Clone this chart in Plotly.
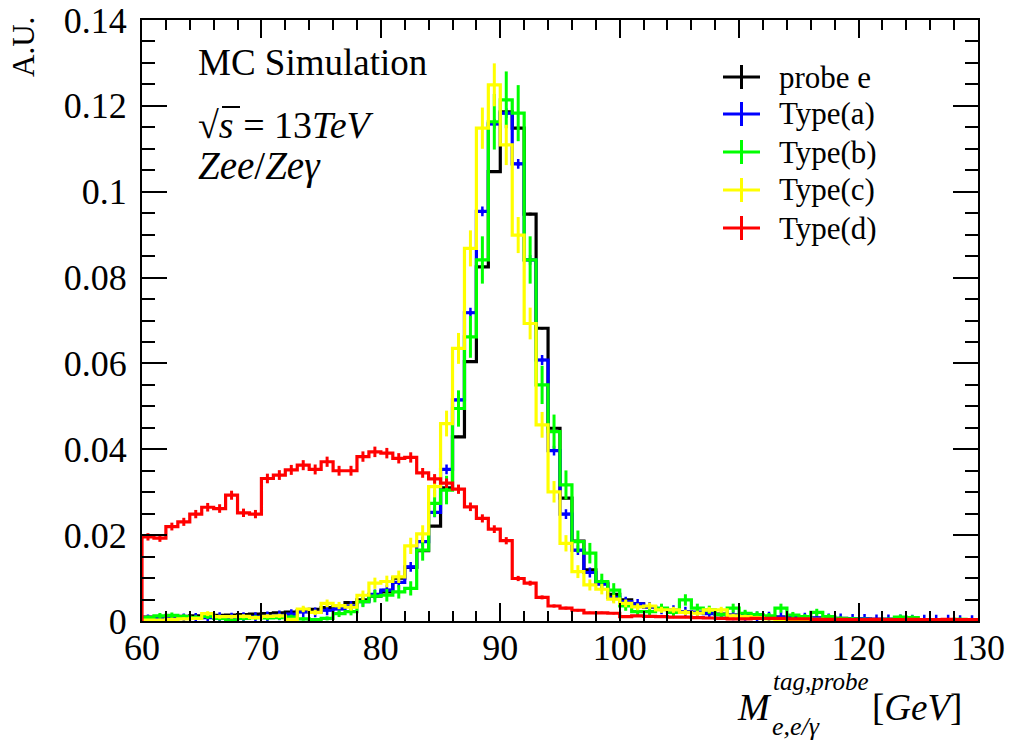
import plotly.graph_objects as go

# ---------------- data (bin width 1 GeV, 60-130 GeV) ----------------
bin_edges = list(range(60, 131))
bin_centres = [e + 0.5 for e in range(60, 130)]

probe_e = [0.0009, 0.0009, 0.0010, 0.0011, 0.0012, 0.0012, 0.0013, 0.0014, 0.0015, 0.0016,
           0.0017, 0.0019, 0.0021, 0.0024, 0.0027, 0.0031, 0.0035, 0.0043, 0.0049, 0.0058,
           0.0068, 0.0100, 0.0125, 0.0164, 0.0221, 0.0310, 0.0429, 0.0604, 0.0825, 0.1047,
           0.1186, 0.1148, 0.0948, 0.0682, 0.0449, 0.0286, 0.0186, 0.0119, 0.0088, 0.0062,
           0.0049, 0.0040, 0.0033, 0.0028, 0.0025, 0.0022, 0.0020, 0.0018, 0.0016, 0.0014,
           0.0012, 0.0011, 0.0010, 0.0009, 0.0008, 0.0007, 0.0007, 0.0006, 0.0005, 0.0005,
           0.0004, 0.0004, 0.0004, 0.0003, 0.0003, 0.0003, 0.0003, 0.0002, 0.0002, 0.0002]
probe_e_err = [0.00003, 0.00003, 0.00003, 0.00003, 0.00003, 0.00003, 0.00004, 0.00004, 0.00004, 0.00004,
               0.00004, 0.00004, 0.00005, 0.00005, 0.00005, 0.00006, 0.00006, 0.00007, 0.00007, 0.00008,
               0.00008, 0.00010, 0.00011, 0.00013, 0.00015, 0.00018, 0.00021, 0.00025, 0.00029, 0.00032,
               0.00034, 0.00034, 0.00031, 0.00026, 0.00021, 0.00017, 0.00014, 0.00011, 0.00009, 0.00008,
               0.00007, 0.00006, 0.00006, 0.00005, 0.00005, 0.00005, 0.00004, 0.00004, 0.00004, 0.00004,
               0.00003, 0.00003, 0.00003, 0.00003, 0.00003, 0.00003, 0.00003, 0.00002, 0.00002, 0.00002,
               0.00002, 0.00002, 0.00002, 0.00002, 0.00002, 0.00002, 0.00002, 0.00001, 0.00001, 0.00001]

type_a = [0.0004, 0.0005, 0.0005, 0.0006, 0.0007, 0.0008, 0.0009, 0.0008, 0.0009, 0.0009,
          0.0011, 0.0013, 0.0016, 0.0021, 0.0020, 0.0025, 0.0028, 0.0035, 0.0045, 0.0062,
          0.0072, 0.0090, 0.0126, 0.0185, 0.0253, 0.0353, 0.0515, 0.0718, 0.0954, 0.1158,
          0.1183, 0.1065, 0.0841, 0.0608, 0.0397, 0.0249, 0.0165, 0.0113, 0.0086, 0.0055,
          0.0045, 0.0040, 0.0033, 0.0027, 0.0025, 0.0022, 0.0020, 0.0017, 0.0015, 0.0013,
          0.0012, 0.0011, 0.0010, 0.0009, 0.0008, 0.0008, 0.0007, 0.0006, 0.0006, 0.0005,
          0.0005, 0.0004, 0.0004, 0.0004, 0.0003, 0.0003, 0.0003, 0.0003, 0.0002, 0.0002]
type_a_err = [0.00003, 0.00003, 0.00003, 0.00003, 0.00004, 0.00004, 0.00004, 0.00004, 0.00004, 0.00004,
              0.00005, 0.00005, 0.00006, 0.00006, 0.00006, 0.00007, 0.00007, 0.00008, 0.00009, 0.00011,
              0.00012, 0.00013, 0.00016, 0.00019, 0.00022, 0.00026, 0.00032, 0.00038, 0.00043, 0.00048,
              0.00048, 0.00046, 0.00041, 0.00035, 0.00028, 0.00022, 0.00018, 0.00015, 0.00013, 0.00010,
              0.00009, 0.00009, 0.00008, 0.00007, 0.00007, 0.00007, 0.00006, 0.00006, 0.00005, 0.00005,
              0.00005, 0.00005, 0.00004, 0.00004, 0.00004, 0.00004, 0.00004, 0.00003, 0.00003, 0.00003,
              0.00003, 0.00003, 0.00003, 0.00003, 0.00002, 0.00002, 0.00002, 0.00002, 0.00002, 0.00002]

type_b = [0.0008, 0.0012, 0.0013, 0.0010, 0.0008, 0.0011, 0.0006, 0.0002, 0.0006, 0.0008,
          0.0007, 0.0008, 0.0009, 0.0005, 0.0003, 0.0006, 0.0017, 0.0022, 0.0045, 0.0058,
          0.0060, 0.0068, 0.0076, 0.0165, 0.0274, 0.0305, 0.0495, 0.0662, 0.0841, 0.1163,
          0.1214, 0.1183, 0.0841, 0.0550, 0.0441, 0.0317, 0.0185, 0.0158, 0.0092, 0.0072,
          0.0035, 0.0022, 0.0022, 0.0030, 0.0020, 0.0049, 0.0030, 0.0026, 0.0015, 0.0030,
          0.0018, 0.0015, 0.0012, 0.0030, 0.0014, 0.0010, 0.0020, 0.0010, 0.0006, 0.0005,
          0.0004, 0.0003, 0.0004, 0.0009, 0.0008, 0.0003, 0.0003, 0.0002, 0.0004, 0.0003]
type_b_err = [0.00054, 0.00066, 0.00068, 0.00060, 0.00054, 0.00063, 0.00047, 0.00027, 0.00047, 0.00054,
              0.00050, 0.00054, 0.00057, 0.00042, 0.00033, 0.00047, 0.00078, 0.00089, 0.00127, 0.00145,
              0.00147, 0.00157, 0.00166, 0.00244, 0.00315, 0.00332, 0.00423, 0.00489, 0.00551, 0.00648,
              0.00662, 0.00653, 0.00551, 0.00446, 0.00399, 0.00338, 0.00258, 0.00239, 0.00182, 0.00161,
              0.00112, 0.00089, 0.00089, 0.00104, 0.00085, 0.00133, 0.00104, 0.00097, 0.00074, 0.00104,
              0.00081, 0.00074, 0.00066, 0.00104, 0.00071, 0.00060, 0.00085, 0.00060, 0.00047, 0.00042,
              0.00038, 0.00033, 0.00038, 0.00057, 0.00054, 0.00033, 0.00033, 0.00027, 0.00038, 0.00033]

type_c = [0.0002, 0.0002, 0.0004, 0.0005, 0.0006, 0.0017, 0.0010, 0.0010, 0.0011, 0.0008,
          0.0011, 0.0012, 0.0004, 0.0028, 0.0020, 0.0041, 0.0036, 0.0032, 0.0060, 0.0088,
          0.0092, 0.0103, 0.0175, 0.0203, 0.0313, 0.0460, 0.0635, 0.0868, 0.1148, 0.1249,
          0.1109, 0.0899, 0.0693, 0.0457, 0.0301, 0.0181, 0.0115, 0.0084, 0.0074, 0.0051,
          0.0041, 0.0033, 0.0035, 0.0026, 0.0026, 0.0020, 0.0018, 0.0026, 0.0026, 0.0012,
          0.0010, 0.0008, 0.0005, 0.0001, 0.0002, 0.0002, 0.0004, 0.0003, 0.0003, 0.0002,
          0.0002, 0.0002, 0.0001, 0.0003, 0.0002, 0.0002, 0.0001, 0.0002, 0.0002, 0.0001]
type_c_err = [0.00020, 0.00020, 0.00028, 0.00032, 0.00035, 0.00058, 0.00045, 0.00045, 0.00047, 0.00040,
              0.00047, 0.00049, 0.00028, 0.00075, 0.00063, 0.00090, 0.00085, 0.00080, 0.00110, 0.00130,
              0.00136, 0.00144, 0.00190, 0.00200, 0.00250, 0.00300, 0.00360, 0.00420, 0.00480, 0.00500,
              0.00470, 0.00420, 0.00370, 0.00300, 0.00250, 0.00190, 0.00150, 0.00130, 0.00120, 0.00100,
              0.00090, 0.00080, 0.00080, 0.00070, 0.00070, 0.00063, 0.00060, 0.00070, 0.00070, 0.00049,
              0.00045, 0.00040, 0.00032, 0.00014, 0.00020, 0.00020, 0.00028, 0.00024, 0.00024, 0.00020,
              0.00020, 0.00020, 0.00014, 0.00024, 0.00020, 0.00020, 0.00014, 0.00020, 0.00020, 0.00014]

type_d = [0.0196, 0.0193, 0.0220, 0.0231, 0.0249, 0.0265, 0.0262, 0.0293, 0.0252, 0.0249,
          0.0332, 0.0340, 0.0352, 0.0363, 0.0353, 0.0371, 0.0350, 0.0350, 0.0383, 0.0394,
          0.0391, 0.0379, 0.0381, 0.0345, 0.0331, 0.0321, 0.0307, 0.0266, 0.0239, 0.0214,
          0.0187, 0.0099, 0.0088, 0.0055, 0.0035, 0.0030, 0.0025, 0.0019, 0.0019, 0.0018,
          0.0010, 0.0012, 0.0011, 0.0010, 0.0009, 0.0009, 0.0008, 0.0007, 0.0006, 0.0005,
          0.0005, 0.0006, 0.0006, 0.0006, 0.0005, 0.0005, 0.0004, 0.0004, 0.0004, 0.0003,
          0.0003, 0.0004, 0.0003, 0.0003, 0.0004, 0.0003, 0.0003, 0.0004, 0.0003, 0.0003]
type_d_err = [0.00086, 0.00086, 0.00091, 0.00094, 0.00097, 0.00100, 0.00100, 0.00105, 0.00098, 0.00097,
              0.00112, 0.00114, 0.00116, 0.00117, 0.00116, 0.00119, 0.00115, 0.00115, 0.00121, 0.00122,
              0.00122, 0.00120, 0.00120, 0.00114, 0.00112, 0.00110, 0.00108, 0.00100, 0.00095, 0.00090,
              0.00084, 0.00061, 0.00058, 0.00046, 0.00036, 0.00034, 0.00031, 0.00027, 0.00027, 0.00026,
              0.00019, 0.00021, 0.00020, 0.00019, 0.00018, 0.00018, 0.00017, 0.00016, 0.00015, 0.00014,
              0.00014, 0.00015, 0.00015, 0.00015, 0.00014, 0.00014, 0.00012, 0.00012, 0.00012, 0.00011,
              0.00011, 0.00012, 0.00011, 0.00011, 0.00012, 0.00011, 0.00011, 0.00012, 0.00011, 0.00011]

series_names = ["probe e", "Type(a)", "Type(b)", "Type(c)", "Type(d)"]
series_colors = ["#000000", "#0000ff", "#00ff00", "#ffff00", "#ff0000"]
series_values = [probe_e, type_a, type_b, type_c, type_d]
series_errors = [probe_e_err, type_a_err, type_b_err, type_c_err, type_d_err]

x_ticks = [60, 70, 80, 90, 100, 110, 120, 130]
y_ticks = [0, 0.02, 0.04, 0.06, 0.08, 0.10, 0.12, 0.14]
y_tick_text = ["0", "0.02", "0.04", "0.06", "0.08", "0.1", "0.12", "0.14"]

# ---------------- figure ----------------
SERIF = "Liberation Serif, Times New Roman, serif"
fig = go.Figure()

for name, col, vals, errs in zip(series_names, series_colors, series_values, series_errors):
    step_x = [bin_edges[0]] + bin_edges + [bin_edges[-1]]
    step_y = [0] + vals + [vals[-1]] + [0]
    fig.add_trace(go.Scatter(x=step_x, y=step_y, mode="lines", line=dict(color=col, width=3.2, shape="hv"),
                             showlegend=False, hoverinfo="skip"))
    if name == "Type(a)":
        mk = dict(symbol="cross-thin", size=7, color=col, line=dict(color=col, width=2.5))
    else:
        mk = dict(size=2, color=col)
    fig.add_trace(go.Scatter(x=bin_centres, y=vals, mode="markers", marker=mk, name=name,
                             error_y=dict(type="data", array=errs, color=col, thickness=3, width=0),
                             showlegend=False))

W, H = 1012, 740
L, R, T, B = 142, 978, 20, 621


def px(x):
    return (x - L) / (R - L)


def py(y):
    return (B - y) / (B - T)


ann = []
shapes = []

# legend (drawn manually, ROOT style)
leg_y = [77, 114, 152, 190, 228]
for name, col, yy in zip(series_names, series_colors, leg_y):
    shapes.append(dict(type="line", xref="paper", yref="paper", x0=px(723), x1=px(760), y0=py(yy), y1=py(yy),
                       line=dict(color=col, width=3)))
    shapes.append(dict(type="line", xref="paper", yref="paper", x0=px(741.5), x1=px(741.5), y0=py(yy - 12),
                       y1=py(yy + 12), line=dict(color=col, width=3)))
    ann.append(dict(text=name, xref="paper", yref="paper", x=px(777), y=py(yy), xanchor="left", yanchor="middle",
                    showarrow=False, font=dict(family=SERIF, size=31, color="black")))

# labels in the plot
ann.append(dict(text="MC Simulation", xref="paper", yref="paper", x=px(196), y=py(62), xanchor="left",
                yanchor="middle", showarrow=False, font=dict(family=SERIF, size=37, color="black")))
ann.append(dict(text="√<i>s</i> = 13<i>TeV</i>", xref="paper", yref="paper", x=px(196), y=py(125),
                xanchor="left", yanchor="middle", showarrow=False, font=dict(family=SERIF, size=38, color="black")))
ann.append(dict(text="<i>Zee</i>/<i>Zeγ</i>", xref="paper", yref="paper", x=px(196), y=py(166),
                xanchor="left", yanchor="middle", showarrow=False, font=dict(family=SERIF, size=39, color="black")))

# y title
ann.append(dict(text="A.U.", xref="paper", yref="paper", x=px(24), y=py(47), xanchor="center", yanchor="middle",
                textangle=-90, showarrow=False, font=dict(family=SERIF, size=31, color="black")))

# x title  M^{tag,probe}_{e,e/gamma} [GeV]
ann.append(dict(text="<i>M</i>", xref="paper", yref="paper", x=px(735), y=py(707), xanchor="left",
                yanchor="middle", showarrow=False, font=dict(family=SERIF, size=38, color="black")))
ann.append(dict(text="<i>tag,probe</i>", xref="paper", yref="paper", x=px(771), y=py(681), xanchor="left",
                yanchor="middle", showarrow=False, font=dict(family=SERIF, size=25, color="black")))
ann.append(dict(text="<i>e,e/γ</i>", xref="paper", yref="paper", x=px(770), y=py(726), xanchor="left",
                yanchor="middle", showarrow=False, font=dict(family=SERIF, size=26, color="black")))
ann.append(dict(text="[<i>GeV</i>]", xref="paper", yref="paper", x=px(870), y=py(707), xanchor="left",
                yanchor="middle", showarrow=False, font=dict(family=SERIF, size=37, color="black")))

# overbar of the square root
shapes.append(dict(type="line", xref="paper", yref="paper", x0=px(222), x1=px(240), y0=py(107), y1=py(107),
                   line=dict(color="black", width=2)))

fig.update_layout(
    width=W, height=H,
    margin=dict(l=L, r=W - R, t=T, b=H - B, autoexpand=False),
    paper_bgcolor="white", plot_bgcolor="white",
    showlegend=False,
    annotations=ann, shapes=shapes,
    font=dict(family=SERIF, color="black"),
)
fig.update_xaxes(range=[60, 130], tickvals=x_ticks, ticks="inside", ticklen=18, tickwidth=2, tickcolor="black",
                 minor=dict(dtick=2, ticks="inside", ticklen=10, tickwidth=2, tickcolor="black"),
                 showline=True, linecolor="black", linewidth=2, mirror="ticks", showgrid=False, zeroline=False,
                 automargin=False, ticklabelstandoff=-6,
                 tickfont=dict(family=SERIF, size=36, color="black"))
fig.update_yaxes(range=[0, 0.14], tickvals=y_ticks, ticktext=y_tick_text, ticks="inside", ticklen=25, tickwidth=2,
                 tickcolor="black",
                 minor=dict(dtick=0.005, ticks="inside", ticklen=13, tickwidth=2, tickcolor="black"),
                 showline=True, linecolor="black", linewidth=2, mirror="ticks", showgrid=False, zeroline=False,
                 automargin=False, ticklabelstandoff=6,
                 tickfont=dict(family=SERIF, size=36, color="black"))

fig.write_html("out.html")
